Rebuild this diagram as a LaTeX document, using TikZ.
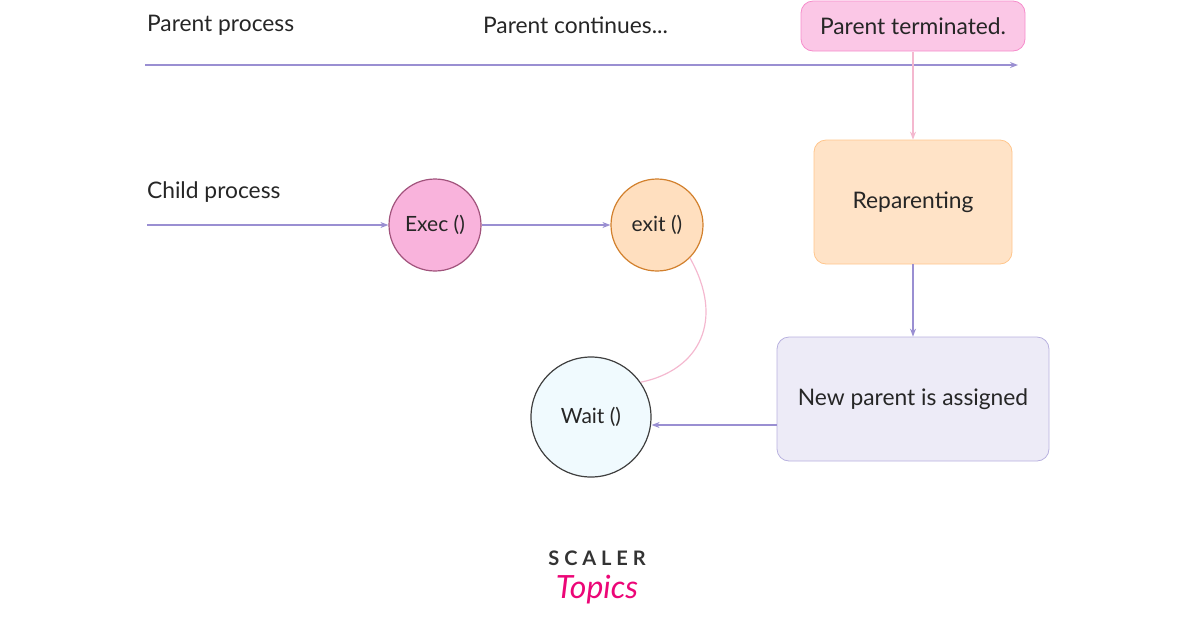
\documentclass[tikz,border=0pt]{standalone}
\usepackage{fontspec}
\setmainfont{Lato}
\usetikzlibrary{positioning,arrows.meta}
\definecolor{lav}{HTML}{9A8FD2}
\definecolor{pinkline}{HTML}{F4B8CF}
\tikzset{
  lbl/.style={anchor=west,font=\fontsize{11.4}{13}\selectfont,text=black!85},
  box/.style={draw,rounded corners=6pt,align=center,font=\fontsize{11.4}{13}\selectfont,text=black!85},
  circ/.style={draw,circle,font=\fontsize{10.5}{12}\selectfont,text=black!85,line width=0.6pt},
  flow/.style={draw=lav,-{Stealth[length=4pt]},line width=0.6pt}
}
\begin{document}
\begin{tikzpicture}[x=0.5pt,y=-0.5pt]
   \useasboundingbox (0,0) rectangle (1196,628);
   \node[lbl] (pp) at (140,25) {Parent process};
   \node[lbl] (pc) at (476,25) {Parent continues...};
   \node[box,fill=magenta!22,draw=magenta!45,minimum width=112pt,minimum height=25pt] (pt) at (913,26) {Parent terminated.};
   \coordinate (ts) at (145,65);
   \coordinate (te) at (1018,65);
   \draw[flow] (ts) -- (te);
   \node[box,fill=orange!22,draw=orange!45,minimum width=99pt,minimum height=62pt] (rp) at (913,202) {Reparenting};
   \node[box,fill=lav!18,draw=lav!70,minimum width=136pt,minimum height=62pt] (np) at (913,399) {New parent is assigned};
   \draw[draw=pinkline,-{Stealth[length=4pt]},line width=0.6pt] (913,52) -- (rp.north);
   \draw[flow] (rp) -- (np);
   \node[lbl] (cp) at (140,192) {Child process};
   \node[circ,fill=magenta!30,draw=magenta!55!black!90,minimum size=46pt] (ex) at (435,225) {Exec ()};
   \node[circ,fill=orange!25,draw=brown!70!orange,minimum size=46pt] (et) at (657,225) {exit ()};
   \node[circ,fill=cyan!6,draw=black!75,minimum size=60pt] (wt) at (591,417) {Wait ()};
   \coordinate (cs) at (147,225);
   \draw[flow] (cs) -- (ex);
   \draw[flow] (ex) -- (et);
   \draw[draw=pinkline,line width=0.6pt] (et.-45) .. controls (725,320) and (700,370) .. (wt.35);
   \draw[flow] (np.west |- 0,425) -- (wt.east |- 0,425);
   % logo
   \node[font=\fontsize{10}{12}\selectfont\bfseries,text=black!80] (sc) at (597,558) {S C A L E R};
   \node[font=\fontsize{16}{18}\selectfont\itshape,text=magenta!80!red] (tp) at (597,590) {Topics};
\end{tikzpicture}
\end{document}
